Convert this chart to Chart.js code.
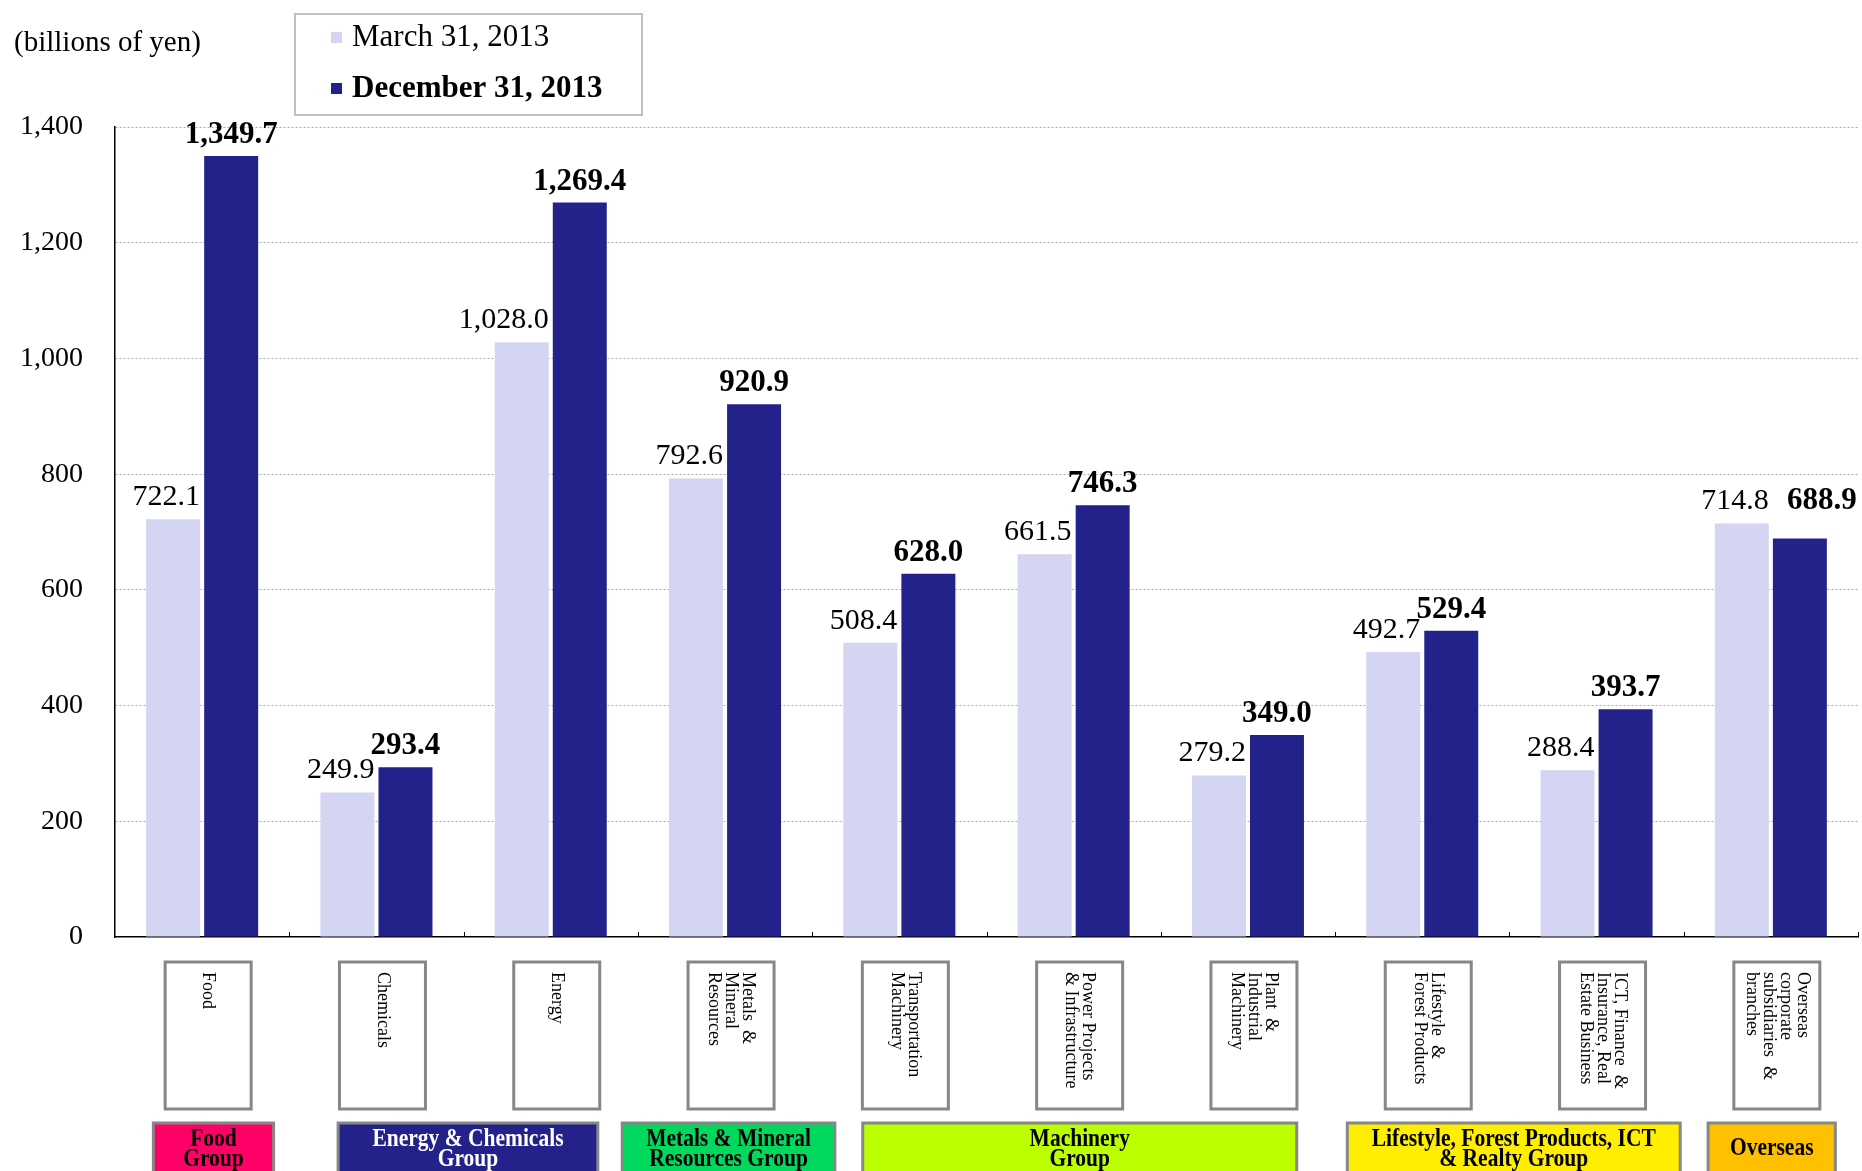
<!DOCTYPE html>
<html>
<head>
<meta charset="utf-8">
<script src="https://cdn.jsdelivr.net/npm/chart.js@4.4.1/dist/chart.umd.min.js"></script>
<style>
html, body { margin: 0; padding: 0; background: #fff; }
#wrap { width: 1862px; height: 1171px; }
</style>
</head>
<body>
<div id="wrap"><canvas id="myChart" width="1862" height="1171"></canvas></div>
<script>
// categorias (lineas del texto vertical de cada caja)
const categorias = [
  ['Food'],
  ['Chemicals'],
  ['Energy'],
  ['Metals  &', 'Mineral', 'Resources'],
  ['Transportation', 'Machinery'],
  ['Power Projects', '& Infrastructure'],
  ['Plant  &', 'Industrial', 'Machinery'],
  ['Lifestyle  &', 'Forest Products'],
  ['ICT, Finance  &', 'Insurance, Real', 'Estate Business'],
  ['Overseas', 'corporate', 'subsidiaries  &', 'branches']
];
const serieNombres = ['March 31, 2013', 'December 31, 2013'];
const marzo = [722.1, 249.9, 1028.0, 792.6, 508.4, 661.5, 279.2, 492.7, 288.4, 714.8];
const diciembre = [1349.7, 293.4, 1269.4, 920.9, 628.0, 746.3, 349.0, 529.4, 393.7, 688.9];
const yTicks = [0, 200, 400, 600, 800, 1000, 1200, 1400];

// grupos de la parte inferior
const grupos = [
  ['Food', 'Group'],
  ['Energy & Chemicals', 'Group'],
  ['Metals & Mineral', 'Resources Group'],
  ['Machinery', 'Group'],
  ['Lifestyle, Forest Products, ICT', '& Realty Group'],
  ['Overseas']
];
// estilos de los grupos (extension en unidades de categoria, colores)
const grupoSpan = [[0.22, 0.91], [1.28, 2.77], [2.91, 4.13], [4.29, 6.78], [7.07, 8.98], [9.14, 9.87]];
const grupoColor = ['#ff0066', '#22228a', '#00d85e', '#bbff00', '#ffee00', '#ffc000'];
const grupoTexto = ['#000', '#fff', '#000', '#000', '#000', '#000'];

const colorClaro = '#d4d4f3';
const colorOscuro = '#22228a';
const serif = "'Liberation Serif', 'Times New Roman', serif";

Chart.defaults.font.family = serif;
Chart.defaults.color = '#000';

const fmt = v => v.toLocaleString('en-US', { minimumFractionDigits: 1, maximumFractionDigits: 1 });

const decoracion = {
  id: 'decoracion',
  afterDatasetsDraw(chart) {
    const ctx = chart.ctx;
    const m0 = chart.getDatasetMeta(0).data;
    const m1 = chart.getDatasetMeta(1).data;
    ctx.save();
    ctx.fillStyle = '#000';
    ctx.textBaseline = 'alphabetic';
    for (let i = 0; i < m0.length; i++) {
      const a = m0[i], b = m1[i];
      const ya = a.y - 14;
      ctx.font = '30px ' + serif;
      ctx.textAlign = 'right';
      ctx.fillText(fmt(marzo[i]), a.x + a.width / 2, ya);
      ctx.font = 'bold 31px ' + serif;
      if (marzo[i] > diciembre[i]) {
        ctx.textAlign = 'left';
        ctx.fillText(fmt(diciembre[i]), b.x - b.width / 2 + 14, ya);
      } else {
        ctx.textAlign = 'center';
        ctx.fillText(fmt(diciembre[i]), b.x, b.y - 13);
      }
    }
    ctx.restore();
  },
  afterDraw(chart) {
    const { ctx, chartArea, scales } = chart;
    const x = scales.x;
    const n = categorias.length;
    const catW = (chartArea.right - chartArea.left) / n;
    ctx.save();

    // pequenas marcas entre categorias
    ctx.strokeStyle = '#000';
    ctx.lineWidth = 1;
    for (let i = 1; i <= n; i++) {
      const xb = Math.round(chartArea.left + i * catW) + 0.5;
      ctx.beginPath();
      ctx.moveTo(xb, chartArea.bottom - 5);
      ctx.lineTo(xb, chartArea.bottom);
      ctx.stroke();
    }

    // unidad
    ctx.fillStyle = '#000';
    ctx.font = '29px ' + serif;
    ctx.textAlign = 'left';
    ctx.textBaseline = 'middle';
    ctx.fillText('(billions of yen)', 14, 43);

    // leyenda
    ctx.strokeStyle = '#c0c0c0';
    ctx.lineWidth = 2;
    ctx.strokeRect(295, 14, 347, 101);
    const colores = [colorClaro, colorOscuro];
    const filasY = [38, 89];
    serieNombres.forEach((nom, k) => {
      ctx.fillStyle = colores[k];
      ctx.fillRect(331, filasY[k] - 6, 11, 11);
      ctx.fillStyle = '#000';
      ctx.font = (k === 1 ? 'bold ' : '') + '31px ' + serif;
      ctx.fillText(nom, 352, filasY[k]);
    });

    // cajas de categorias con texto vertical
    const boxW = 86, boxTop = 962, boxH = 147, lh = 17;
    categorias.forEach((lineas, i) => {
      const cx = x.getPixelForValue(i) + 6;
      ctx.fillStyle = '#fff';
      ctx.fillRect(cx - boxW / 2, boxTop, boxW, boxH);
      ctx.strokeStyle = '#878787';
      ctx.lineWidth = 3;
      ctx.strokeRect(cx - boxW / 2, boxTop, boxW, boxH);
      ctx.fillStyle = '#000';
      ctx.font = '18px ' + serif;
      ctx.textAlign = 'left';
      ctx.textBaseline = 'middle';
      lineas.forEach((t, j) => {
        const lx = cx + (lineas.length - 1) / 2 * lh - j * lh;
        ctx.save();
        ctx.translate(lx, boxTop + 10);
        ctx.rotate(Math.PI / 2);
        ctx.fillText(t, 0, 0);
        ctx.restore();
      });
    });

    // cajas de grupos
    grupos.forEach((lineas, g) => {
      const x1 = chartArea.left + grupoSpan[g][0] * catW;
      const x2 = chartArea.left + grupoSpan[g][1] * catW;
      const top = 1123;
      ctx.fillStyle = grupoColor[g];
      ctx.fillRect(x1, top, x2 - x1, 70);
      ctx.strokeStyle = '#878787';
      ctx.lineWidth = 3;
      ctx.strokeRect(x1, top, x2 - x1, 70);
      ctx.fillStyle = grupoTexto[g];
      ctx.font = 'bold 25px ' + serif;
      ctx.textAlign = 'center';
      ctx.textBaseline = 'alphabetic';
      const cx = (x1 + x2) / 2;
      const bases = lineas.length === 1 ? [1155] : [1146, 1166];
      lineas.forEach((t, j) => {
        ctx.save();
        ctx.translate(cx, bases[j]);
        ctx.scale(0.86, 1);
        ctx.fillText(t, 0, 0);
        ctx.restore();
      });
    });

    ctx.restore();
  }
};

const chart = new Chart(document.getElementById('myChart'), {
  type: 'bar',
  data: {
    labels: categorias,
    datasets: [
      { label: serieNombres[0], data: marzo, backgroundColor: colorClaro },
      { label: serieNombres[1], data: diciembre, backgroundColor: colorOscuro }
    ]
  },
  options: {
    responsive: false,
    animation: false,
    devicePixelRatio: 1,
    layout: { padding: { top: 127, right: 4, left: 0, bottom: 0 } },
    datasets: { bar: { categoryPercentage: 0.666, barPercentage: 0.93 } },
    plugins: { legend: { display: false }, tooltip: { enabled: false } },
    scales: {
      x: {
        ticks: { display: false },
        grid: { display: false },
        border: { display: true, color: '#000', width: 1.5 },
        afterFit(s) { s.height = 234; }
      },
      y: {
        min: 0,
        max: 1400,
        afterBuildTicks(s) { s.ticks = yTicks.map(v => ({ value: v })); },
        ticks: {
          padding: 32,
          color: '#000',
          font: { size: 28 },
          callback: v => v.toLocaleString('en-US')
        },
        grid: {
          drawTicks: false,
          lineWidth: 1,
          color: c => (c.tick && c.tick.value === 0) ? 'rgba(0,0,0,0)' : '#a8a8a8'
        },
        border: { display: true, color: '#000', width: 1.5, dash: [2, 2] },
        afterFit(s) { s.width = 115; }
      }
    }
  },
  plugins: [decoracion]
});
</script>
</body>
</html>
